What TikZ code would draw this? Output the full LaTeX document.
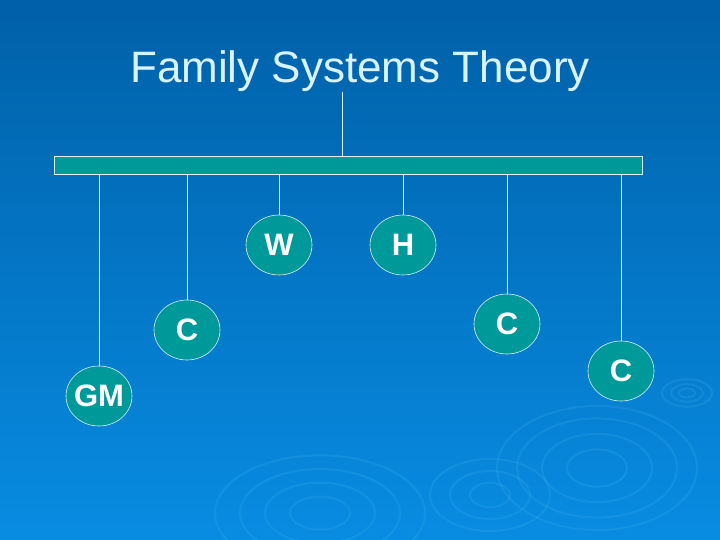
\documentclass[tikz,border=0pt]{standalone}
\usepackage{fontspec}
\setmainfont{Liberation Sans}
\begin{document}
\begin{tikzpicture}[x=1pt,y=-1pt,
  member/.style={ellipse,draw=white!85!cyan,line width=0.6pt,
    minimum width=66pt,minimum height=60pt,inner sep=0pt,text=white,
    font=\fontsize{31}{31}\selectfont\bfseries},
  link/.style={draw=white!85!cyan,line width=0.6pt},
  ripple/.style={draw=cyan!60!white,opacity=0.13,line width=2pt}]
\usetikzlibrary{shapes.geometric}
\definecolor{bgtop}{RGB}{0,96,168}
\definecolor{bgbot}{RGB}{8,140,226}
\definecolor{tealfill}{RGB}{0,153,153}
\shade[top color=bgtop,bottom color=bgbot] (0,0) rectangle (720,540);
\useasboundingbox (0,0) rectangle (720,540);
% ripples
\foreach \r in {30,55,80,100}{\draw[ripple] (597,468) ellipse ({\r} and {\r*0.62});}
\foreach \r in {20,40,60}{\draw[ripple] (490,495) ellipse ({\r} and {\r*0.6});}
\foreach \r in {30,55,80,105}{\draw[ripple] (320,513) ellipse ({\r} and {\r*0.55});}
\foreach \r in {8,16,25}{\draw[ripple] (687,393) ellipse ({\r} and {\r*0.55});}
% title
\node[text=white!85!cyan,font=\fontsize{44}{48}\selectfont] (title) at (360,71) {Family Systems Theory};
% bar
\node[draw=white!85!cyan,line width=0.8pt,fill=tealfill,minimum width=588pt,minimum height=18pt,inner sep=0pt] (bar) at (348,165) {};
\coordinate (top) at (342,92);
\draw[link] (top) -- (top |- bar.north);
% members
\node[member,fill=tealfill] (w) at (279,245) {W};
\node[member,fill=tealfill] (h) at (403,245) {H};
\node[member,fill=tealfill] (c1) at (187,330) {C};
\node[member,fill=tealfill] (gm) at (99,396) {\makebox[36pt]{GM}};
\node[member,fill=tealfill] (c2) at (507,324) {C};
\node[member,fill=tealfill] (c3) at (621,371) {C};
\foreach \n in {w,h,c1,gm,c2,c3}{\draw[link] (\n.north) -- (\n.north |- bar.south);}
\end{tikzpicture}
\end{document}
